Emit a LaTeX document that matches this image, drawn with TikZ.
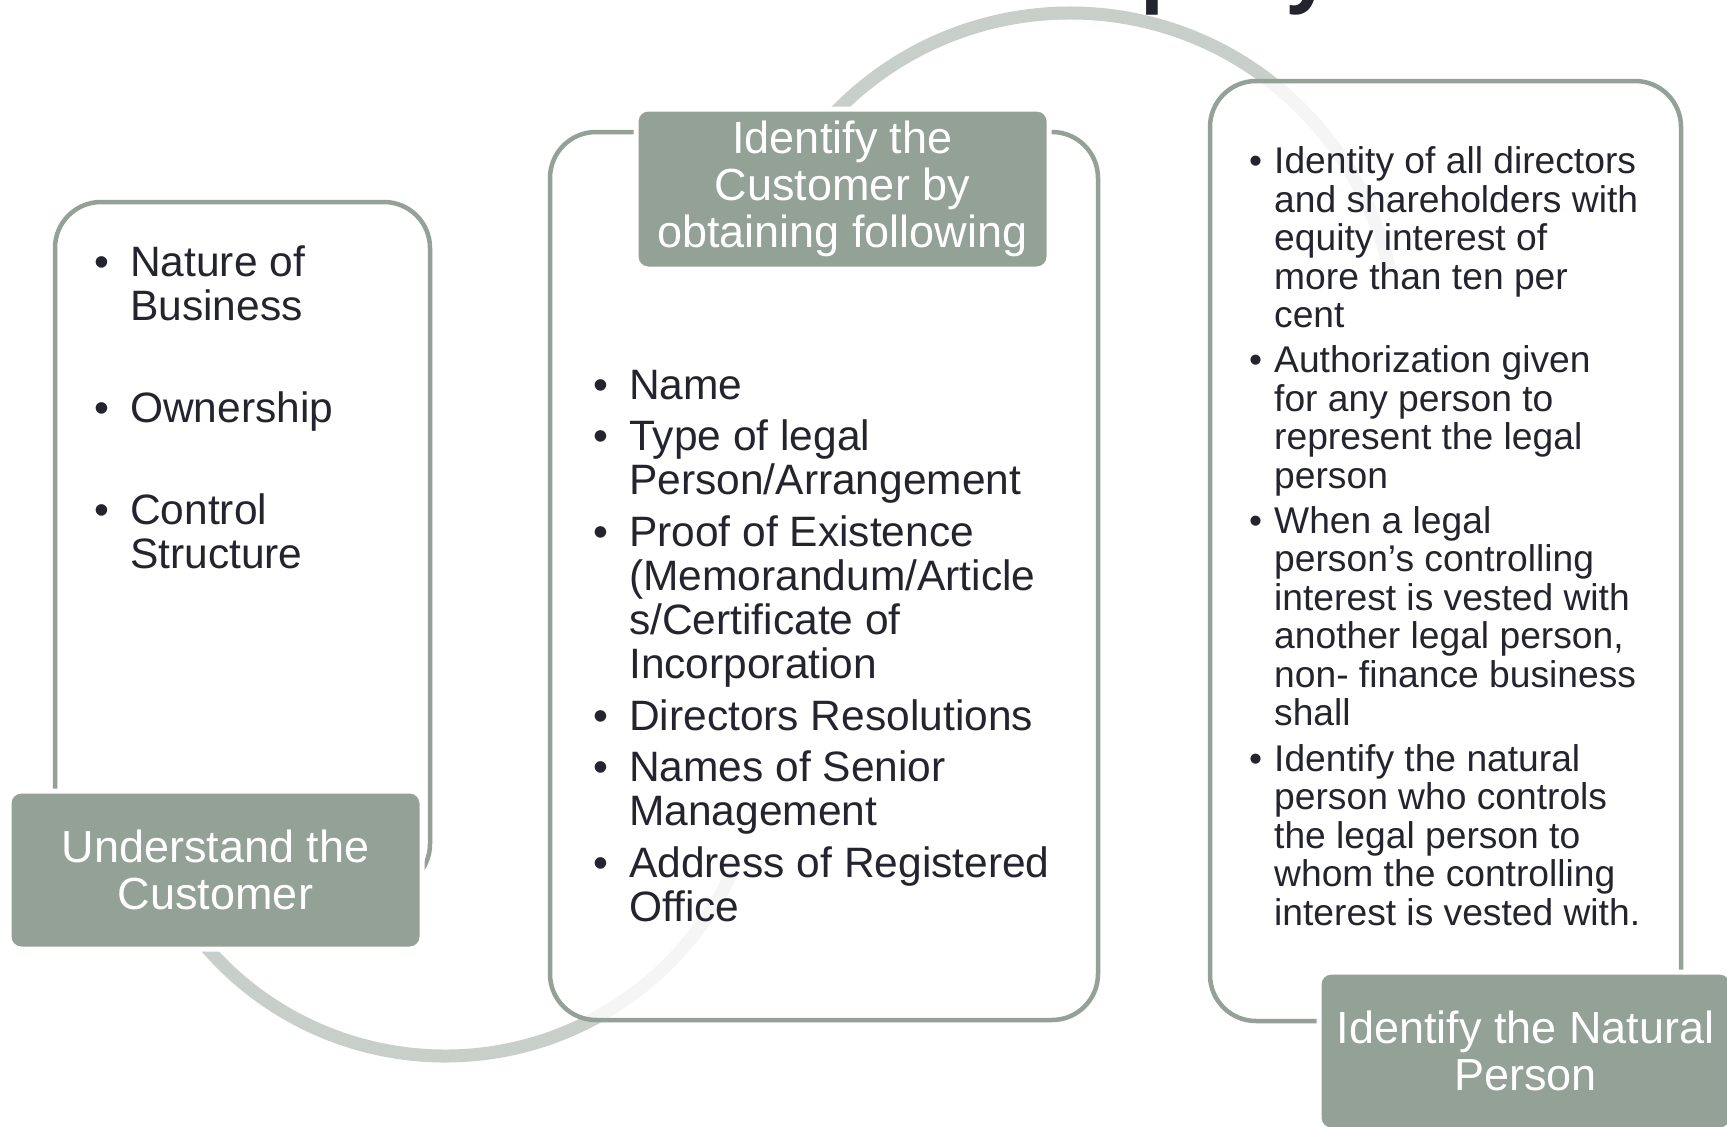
\documentclass[tikz,border=0pt]{standalone}
\usepackage{fontspec}
\setmainfont{Liberation Sans}
\newfontfamily\titlefont{Open Sans}
\definecolor{boxgreen}{HTML}{93A197}
\definecolor{arcgray}{HTML}{C8CFCA}
\definecolor{inktext}{HTML}{24242F}
\tikzset{
  outlinebox/.style={draw=boxgreen, line width=4.5pt, fill=white, fill opacity=0.8,
    rounded corners=46pt, inner sep=0pt},
  labelbox/.style={draw=white, line width=5pt, fill=boxgreen, rounded corners=12pt,
    text=white, align=center, inner sep=0pt,
    font={\fontsize{45pt}{47pt}\selectfont}},
  arcline/.style={draw=arcgray, line width=13pt},
  itemtext/.style={anchor=base west, align=left, inner sep=0pt, text=inktext},
  bigitems/.style={font={\fontsize{42.5pt}{44pt}\selectfont}},
  smallitems/.style={font={\fontsize{37.2pt}{38.5pt}\selectfont}},
  titletext/.style={anchor=base west, inner sep=0pt, text=inktext,
    font={\titlefont\bfseries\fontsize{78pt}{90pt}\selectfont}}
}
\newcommand\bl[1]{\llap{\textbullet\hspace{#1}}}
\begin{document}
\begin{tikzpicture}[x=1pt,y=1pt,yscale=-1]
\useasboundingbox (0,0) rectangle (1727,1127);
\begin{scope}
\clip (0,0) rectangle (1727,1127);
\fill[white] (0,0) rectangle (1727,1127);

% title (cut off by the top edge)
\node[titletext] (title) at (1140,-4) {\llap{Com}pany};

% connecting arcs
\draw[arcline] (1070,340) ++(-137:327pt) arc[start angle=-137, end angle=-12, radius=327pt];
\draw[arcline] (445,740) ++(142:316pt) arc[start angle=142, end angle=25, radius=316pt];

% outline boxes
\node[outlinebox, minimum width=375pt, minimum height=688pt] (b1) at (242.5,546) {};
\node[outlinebox, minimum width=548pt, minimum height=888pt] (b2) at (824,576) {};
\node[outlinebox, minimum width=471pt, minimum height=940pt] (b3) at (1445.5,551) {};

% label boxes
\node[labelbox, minimum width=413pt, minimum height=158pt] (l1) at (215.5,870) {Understand the\\Customer};
\node[labelbox, minimum width=413pt, minimum height=160pt] (l2) at (842.5,189) {Identify the\\Customer by\\obtaining following};
\node[labelbox, minimum width=413pt, minimum height=158pt] (l3) at (1525.5,1051) {Identify the Natural\\Person};

% bullet texts (anchored at the baseline of their last line)
\node[itemtext, bigitems] (t1) at (130,568) {\bl{21pt}Nature of\\Business\\[58pt]\bl{21pt}Ownership\\[58pt]\bl{21pt}Control\\Structure};

\node[itemtext, bigitems] (t2) at (629,921.5) {\bl{21pt}Name\\[7.7pt]\bl{21pt}Type of legal\\Person/Arrangement\\[7.7pt]\bl{21pt}Proof of Existence\\(Memorandum/Article\\s/Certificate of\\Incorporation\\[7.7pt]\bl{21pt}Directors Resolutions\\[7.7pt]\bl{21pt}Names of Senior\\Management\\[7.7pt]\bl{21pt}Address of Registered\\Office};

\node[itemtext, smallitems] (t3) at (1274,925) {\bl{12pt}Identity of all directors\\and shareholders with\\equity interest of\\more than ten per\\cent\\[6.6pt]\bl{12pt}Authorization given\\for any person to\\represent the legal\\person\\[6.6pt]\bl{12pt}When a legal\\person’s controlling\\interest is vested with\\another legal person,\\non- finance business\\shall\\[6.6pt]\bl{12pt}Identify the natural\\person who controls\\the legal person to\\whom the controlling\\interest is vested with.};
\end{scope}
\end{tikzpicture}
\end{document}
